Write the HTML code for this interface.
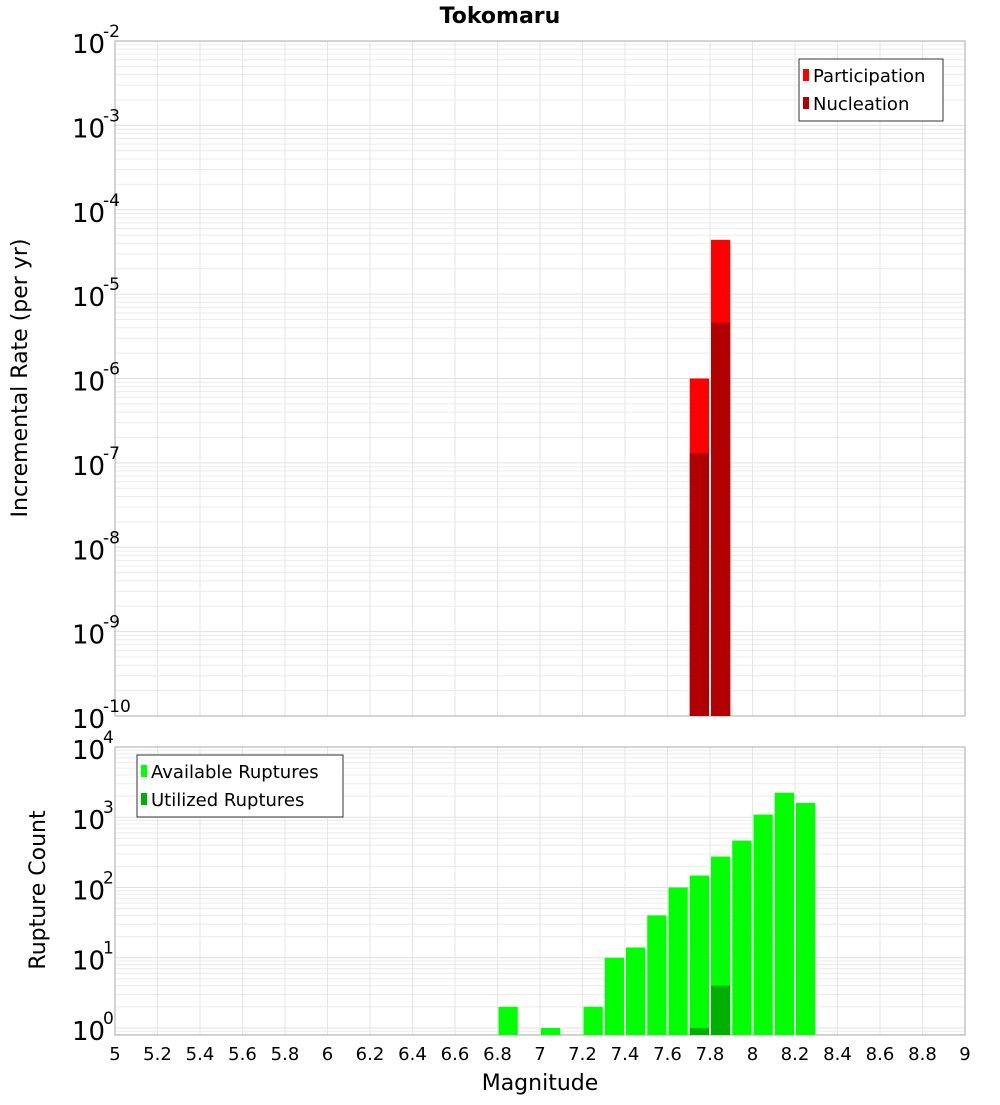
<!DOCTYPE html>
<html><head><meta charset="utf-8"><style>
body{margin:0;background:#fff;}
svg text{font-family:"DejaVu Sans","Liberation Sans",sans-serif;}
</style></head><body>
<svg id="chart" width="1000" height="1100" xmlns="http://www.w3.org/2000/svg">
<text x="500" y="23" text-anchor="middle" font-size="22" font-weight="bold">Tokomaru</text>
<g id="top"></g><g id="bot"></g>
<text transform="translate(27,378) rotate(-90)" text-anchor="middle" font-size="22">Incremental Rate (per yr)</text>
<text transform="translate(45,890) rotate(-90)" text-anchor="middle" font-size="22">Rupture Count</text>
<text x="540" y="1090" text-anchor="middle" font-size="22">Magnitude</text>
</svg>
<script>
const topMags=[7.75,7.85];
const participation=[1.0e-6,4.4e-5];
const nucleation=[1.3e-7,4.6e-6];
const botMags=[6.85,7.05,7.25,7.35,7.45,7.55,7.65,7.75,7.85,7.95,8.05,8.15,8.25];
const available=[2,1,2,10,14,40,100,148,275,465,1090,2230,1600];
const utilMags=[7.75,7.85];
const utilized=[1,4];
const xTicks=[5,5.2,5.4,5.6,5.8,6,6.2,6.4,6.6,6.8,7,7.2,7.4,7.6,7.8,8,8.2,8.4,8.6,8.8,9];
const topExp=[-2,-3,-4,-5,-6,-7,-8,-9,-10];
const botExp=[4,3,2,1,0];

const NS="http://www.w3.org/2000/svg";
const L=115,R=965;
const xs=m=>L+(m-5)/4*(R-L);
const bw=0.1*(R-L)/4-2;
function mk(parent,tag,attrs){const e=document.createElementNS(NS,tag);for(const k in attrs)e.setAttribute(k,attrs[k]);parent.appendChild(e);return e;}
const svg=document.getElementById('chart');

function panel(g,top,bot,minE,maxE,name){
  const ys=v=>bot-(Math.log10(v)-minE)/(maxE-minE)*(bot-top);
  // grid
  for(let e=Math.floor(minE);e<maxE;e++)for(let k=1;k<10;k++){const v=k*Math.pow(10,e);const lv=Math.log10(v);if(lv<minE||lv>maxE)continue;const y=ys(v);
    const l=mk(g,'line',{x1:L,x2:R,y1:y,y2:y,stroke:k==1?'#e0e0e0':'#ececec','stroke-width':1});
    }
  xTicks.forEach(t=>{const x=xs(t);const l=mk(g,'line',{x1:x,x2:x,y1:top,y2:bot,stroke:'#e6e6e6'});
    });
  const f=mk(g,'rect',{x:L,y:top,width:R-L,height:bot-top,fill:'none',stroke:'#aaa'});
  
  return ys;
}
const gt=document.getElementById('top'),gb=document.getElementById('bot');
const yt=panel(gt,41,716,-10,-2,'top');
const yb=panel(gb,747,1035,-0.1,4,'bottom');

function bars(g,mags,vals,ys,bottom,color,name){
  mags.forEach((m,i)=>{const y=ys(vals[i]);const r=mk(g,'rect',{x:xs(m)-bw/2,y:y,width:bw,height:bottom-y,fill:color});
    });
}
bars(gt,topMags,participation,yt,716,'#ff0000','participation-bar');
bars(gt,topMags,nucleation,yt,716,'#b00000','nucleation-bar');
bars(gb,botMags,available,yb,1035,'#00ff00','available-bar');
bars(gb,utilMags,utilized,yb,1035,'#00b000','utilized-bar');

function ylabels(g,exps,ys,name){
  exps.forEach(e=>{const y=ys(Math.pow(10,e));const t=mk(g,'text',{x:72,y:y+12,'font-size':26});
    t.textContent='10';
    const s=mk(g,'text',{x:103,y:y-4,'font-size':17});s.textContent=String(e);
    });
}
ylabels(gt,topExp,yt,'top-y');
ylabels(gb,botExp,yb,'bottom-y');
xTicks.forEach(t=>{const tx=mk(svg,'text',{x:xs(t),y:1060,'font-size':18,'text-anchor':'middle'});
  tx.textContent=String(t);});

function legend(x,y,w,items,name){
  const g=mk(svg,'g',{});
  mk(g,'rect',{x:x,y:y,width:w,height:items.length*28+6,fill:'#fff',stroke:'#333'});
  items.forEach((it,i)=>{mk(g,'rect',{x:x+4,y:y+10+i*28,width:6,height:12,fill:it[1]});
    const t=mk(g,'text',{x:x+14,y:y+23+i*28,'font-size':18});t.textContent=it[0];
    });
}
legend(799,59,144,[['Participation','#ff0000'],['Nucleation','#b00000']],'top-legend');
legend(137,755,206,[['Available Ruptures','#00ff00'],['Utilized Ruptures','#00b000']],'bottom-legend');
</script>
</body></html>
